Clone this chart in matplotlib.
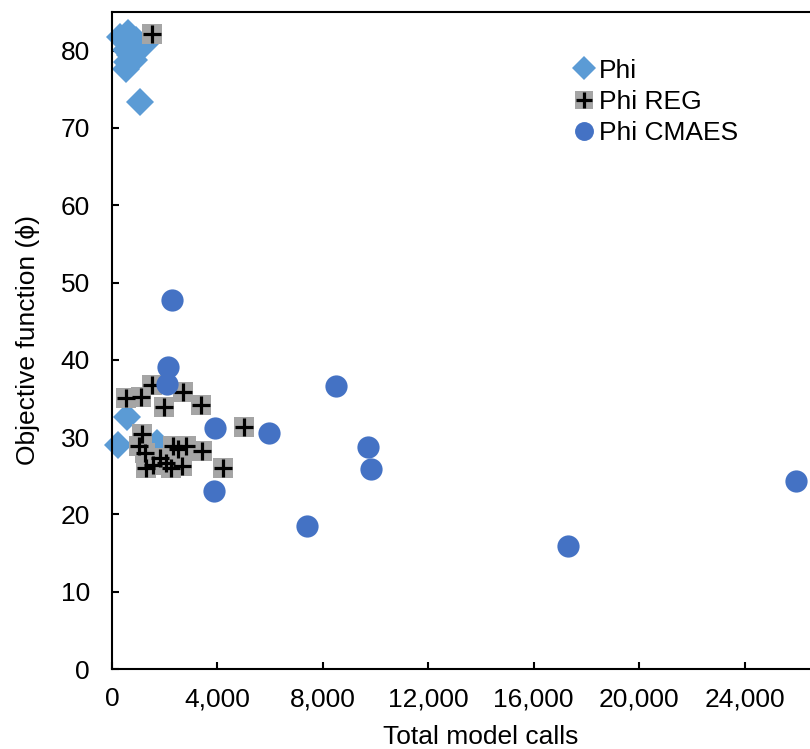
import matplotlib.pyplot as plt
from matplotlib.ticker import FuncFormatter

plt.rcParams['font.family'] = ['Liberation Sans', 'DejaVu Sans']

# Phi (plain calibration runs)
phi_calls = [305, 610, 914, 1257, 533, 686, 838, 572, 533, 1067, 572, 229, 1714]
phi_obj = [81.8, 82.3, 81.4, 80.9, 80.1, 79.4, 78.8, 78.5, 77.6, 73.4, 32.6, 29.0, 29.3]

# Phi with regularisation
reg_calls = [1524, 533, 1105, 1524, 2705, 1981, 3391, 4991, 1143, 1029, 1257, 1562,
             2324, 2515, 2819, 2057, 2248, 2667, 3429, 4229, 1295, 1829]
reg_obj = [82.2, 35.1, 35.2, 36.7, 35.9, 33.9, 34.2, 31.3, 30.4, 28.9, 28.0, 26.4,
           28.8, 28.4, 28.8, 26.6, 26.0, 26.2, 28.2, 26.0, 26.0, 27.3]

# Phi with CMA-ES
cmaes_calls = [2277, 2125, 2087, 8501, 3909, 5958, 9715, 9829, 3871, 7400, 17305, 25958]
cmaes_obj = [47.8, 39.1, 36.9, 36.6, 31.2, 30.5, 28.7, 25.9, 23.0, 18.5, 15.9, 24.3]

fig = plt.figure(figsize=(8.1, 7.49), dpi=100)
ax = fig.add_axes([0.1383, 0.1068, 0.911, 0.8772])

h_phi, = ax.plot(phi_calls, phi_obj, 'D', color='#5B9BD5', markersize=14.5,
                 markeredgewidth=0, linestyle='none', clip_on=False)
h_sq, = ax.plot(reg_calls, reg_obj, 's', color='#A5A5A5', markersize=14.5,
                markeredgewidth=0, linestyle='none', clip_on=False)
h_plus, = ax.plot(reg_calls, reg_obj, '+', color='black', markersize=13,
                  markeredgewidth=2.3, linestyle='none', clip_on=False)
h_cma, = ax.plot(cmaes_calls, cmaes_obj, 'o', color='#4472C4', markersize=16,
                 markeredgewidth=0, linestyle='none', clip_on=False)

ax.set_xlim(0, 28000)
ax.set_ylim(0, 85)
ax.set_xticks(range(0, 24001, 4000))
ax.set_yticks(range(0, 81, 10))
ax.xaxis.set_major_formatter(FuncFormatter(lambda v, p: f'{int(v):,}'))

for side in ['top', 'left', 'bottom', 'right']:
    ax.spines[side].set_linewidth(1.5)
ax.tick_params(axis='both', direction='in', length=5, width=1.5, labelsize=19)
ax.tick_params(axis='x', pad=13)
ax.tick_params(axis='y', pad=16)

ax.set_xlabel('Total model calls', fontsize=19, labelpad=10)
ax.set_ylabel('Objective function (ϕ)', fontsize=19, labelpad=15)

ax.legend([h_phi, (h_sq, h_plus), h_cma], ['Phi', 'Phi REG', 'Phi CMAES'],
          loc='upper left', bbox_to_anchor=(0.615, 0.945), frameon=False,
          fontsize=19, markerscale=0.85, handlelength=0.6, handletextpad=0.25,
          labelspacing=0.28, borderaxespad=0)

fig.savefig('out.png', dpi=100)
